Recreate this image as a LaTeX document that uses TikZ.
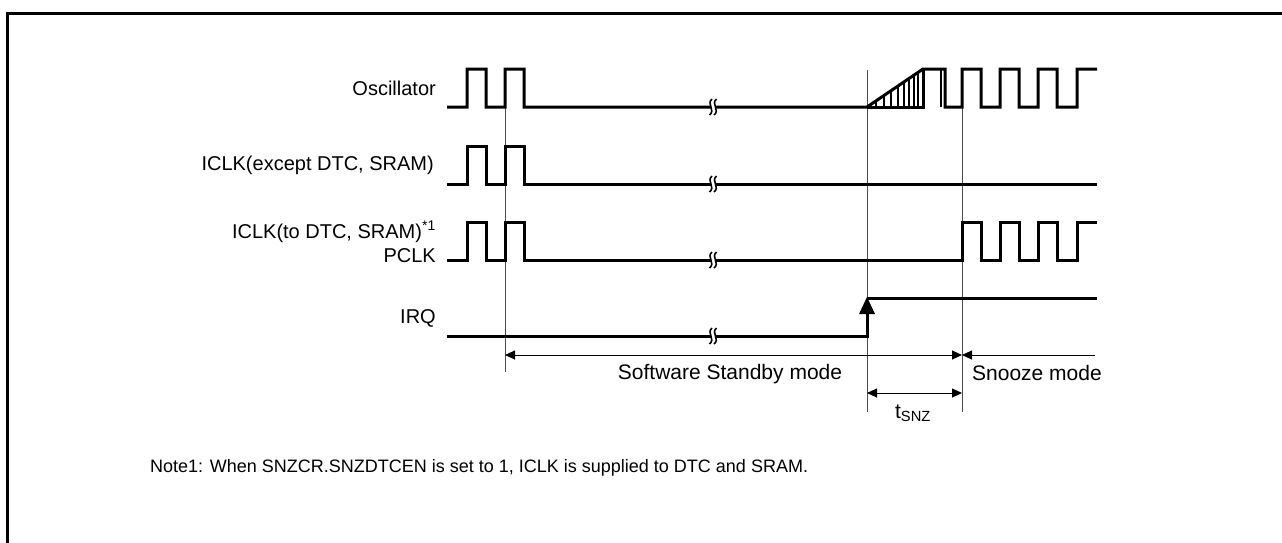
\documentclass[tikz,border=0pt]{standalone}
\usepackage{fontspec}
\setmainfont{Liberation Sans}
\usetikzlibrary{arrows.meta}
\newcommand\brkmark[2]{%
  \fill[white] (#1-2.5,#2-7) rectangle (#1+2.5,#2+7);
  \draw[line width=1.6pt] (#1-1,#2-8) .. controls (#1-7,#2-3) and (#1+3,#2+3) .. (#1-3.5,#2+8);
  \draw[line width=1.6pt] (#1+3.5,#2-8) .. controls (#1-2.5,#2-3) and (#1+7.5,#2+3) .. (#1+1,#2+8);
}
\begin{document}
\begin{tikzpicture}[x=1pt,y=-1pt,
  wave/.style={line width=3pt, line join=miter},
  hatch/.style={line width=1.3pt},
  guide/.style={line width=0.9pt, draw=black!70},
  dim/.style={line width=0.9pt},
  lbl/.style={inner sep=0pt, font=\fontsize{20}{24}\selectfont},
  mlbl/.style={inner sep=0pt, font=\fontsize{21}{25}\selectfont},
  nlbl/.style={inner sep=0pt, font=\fontsize{18}{22}\selectfont}
]
\useasboundingbox (0,0) rectangle (1282,542);
% frame
\draw[line width=3pt] (7.5,545) -- (7.5,13) -- (1285,13);

% guide lines
\draw[guide] (505,107) -- (505,372);
\draw[guide] (867,70) -- (867,412);
\draw[guide] (962,69) -- (962,412);

% Oscillator
\draw[wave] (447,107) -| (467,69) -| (486,107) -| (505,69) -| (524,107) -- (867,107) -- (923,69) -- (945,69) -- (945,107) -| (962,69) -| (981,107) -| (1000,69) -| (1019,107) -| (1038,69) -| (1057,107) -| (1077,69) -- (1097,69);
\draw[wave] (867,107) -- (923,107) -- (923,69);
\foreach \x in {876,884,891,898,904,909,914,918}
  \draw[hatch] (\x,107) -- (\x,{107-(\x-867)*38/56});
\draw[hatch] (941,69) -- (941,107);

% ICLK except
\draw[wave] (447,184) -| (467,146) -| (486,184) -| (505,146) -| (524,184) -- (1097,184);

% ICLK to DTC / PCLK
\draw[wave] (447,260) -| (467,222) -| (486,260) -| (505,222) -| (524,260) -- (962,260) -| (962,222) -| (981,260) -| (1000,222) -| (1019,260) -| (1038,222) -| (1057,260) -| (1077,222) -- (1097,222);

% IRQ
\draw[wave] (447,336) -- (867,336) -- (867,312);
\fill (867,297) -- (859,314) -- (875,314) -- cycle;
\draw[wave] (867,298) -- (1097,298);

% breaks
\brkmark{713}{107}
\brkmark{713}{184}
\brkmark{713}{260}
\brkmark{713}{336}

% dimension arrows
\coordinate (ssL) at (505,355);
\coordinate (ssR) at (962,355);
\coordinate (snE) at (1095,355);
\coordinate (tL) at (867,393);
\coordinate (tR) at (962,393);
\draw[dim, {Triangle[length=10pt,width=9pt]}-{Triangle[length=10pt,width=9pt]}] (ssL) -- (ssR);
\draw[dim, {Triangle[length=10pt,width=9pt]}-] (ssR) -- (snE);
\draw[dim, {Triangle[length=10pt,width=9pt]}-{Triangle[length=10pt,width=9pt]}] (tL) -- (tR);

% labels
\node[lbl, anchor=east] (osc) at (436,88) {Oscillator};
\node[lbl, anchor=east] (iclka) at (434,165) {ICLK(except DTC, SRAM)};
\node[lbl, anchor=east] (iclkb) at (436,232) {ICLK(to DTC, SRAM)\textsuperscript{*1}};
\node[lbl, anchor=east] (pclk) at (436,256) {PCLK};
\node[lbl, anchor=east] (irq) at (436,318) {IRQ};
\node[mlbl] (ssm) at (730,374) {Software Standby mode};
\node[mlbl, anchor=west] (snm) at (972,373) {Snooze mode};
\node[mlbl] (tsnz) at (913,413) {t\textsubscript{SNZ}};
\node[nlbl, anchor=west] (note) at (150,468) {Note1: When SNZCR.SNZDTCEN is set to 1, ICLK is supplied to DTC and SRAM.};
\end{tikzpicture}
\end{document}
